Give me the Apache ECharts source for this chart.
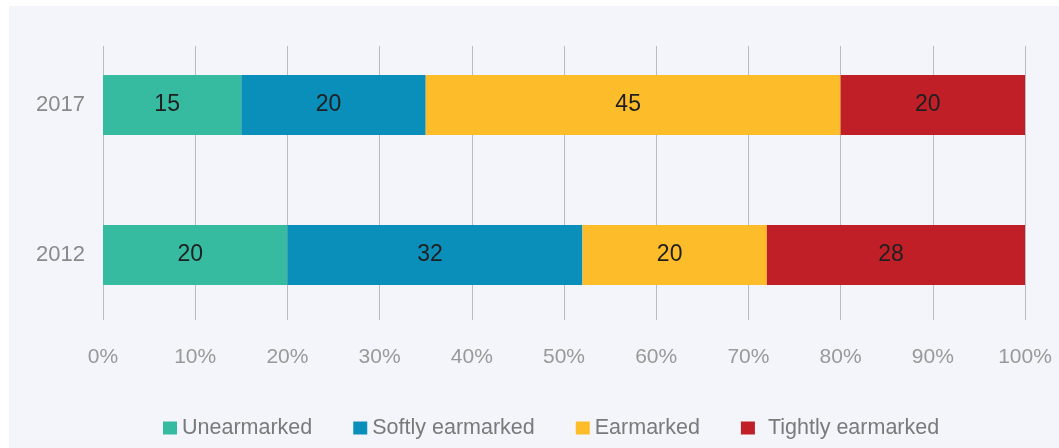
<!DOCTYPE html>
<html><head><meta charset="utf-8">
<script src="https://cdn.jsdelivr.net/npm/echarts@6/dist/echarts.min.js"></script>
<style>html,body{margin:0;padding:0;background:#fff}#c{width:1059px;height:448px}</style>
</head><body><div id="c"></div>
<script>
const categories = ['2012', '2017'];
const seriesNames = ['Unearmarked', 'Softly earmarked', 'Earmarked', 'Tightly earmarked'];
const unearmarked = [20, 15];
const softly = [32, 20];
const earmarked = [20, 45];
const tightly = [28, 20];
const colors = ['#36BBA1', '#0A8FBA', '#FDBD2B', '#C11F28'];
const values = [unearmarked, softly, earmarked, tightly];

const chart = echarts.init(document.getElementById('c'));
const font = '"Liberation Sans", Arial, sans-serif';
chart.setOption({
  backgroundColor: '#F3F5FA',
  animation: false,
  graphic: [
    {type: 'rect', shape: {x: 0, y: 0, width: 1059, height: 6}, style: {fill: '#fff'}, z: 100},
    {type: 'rect', shape: {x: 0, y: 0, width: 9, height: 448}, style: {fill: '#fff'}, z: 100}
  ],
  legend: {
    data: seriesNames.map((n, i) => i === 3
      ? {name: n, textStyle: {padding: [0, 0, 0, 8]}}
      : {name: n}),
    top: 417, left: 163, padding: 0,
    itemWidth: 14, itemHeight: 13, itemGap: 41,
    icon: 'rect',
    textStyle: {color: '#7a7a7a', fontSize: 21.5, fontFamily: font}
  },
  grid: [
    {left: 103, right: 34, top: 46, bottom: 128},
    {left: 103, right: 34, top: 30, bottom: 118}
  ],
  xAxis: [
    {type: 'value', gridIndex: 0, min: 0, max: 100, interval: 10,
     axisLine: {show: false}, axisTick: {show: false},
     splitLine: {lineStyle: {color: '#B9BBC0', width: 1}},
     axisLabel: {formatter: '{value}%', color: '#999', fontSize: 21, fontFamily: font, margin: 27}},
    {type: 'value', gridIndex: 1, min: 0, max: 100, show: false}
  ],
  yAxis: [
    {type: 'category', gridIndex: 0, data: categories, show: false},
    {type: 'category', gridIndex: 1, data: categories,
     axisLine: {show: false}, axisTick: {show: false},
     axisLabel: {color: '#8a8a8a', fontSize: 22, fontFamily: font, margin: 18}}
  ],
  series: seriesNames.map((n, i) => ({
    name: n, type: 'bar', stack: 'total', xAxisIndex: 1, yAxisIndex: 1,
    barWidth: 60, data: values[i],
    itemStyle: {color: colors[i]},
    label: {show: true, position: 'inside', offset: [-5, 0], color: '#1f1f1f', fontSize: 23, fontFamily: font}
  }))
});
</script></body></html>
